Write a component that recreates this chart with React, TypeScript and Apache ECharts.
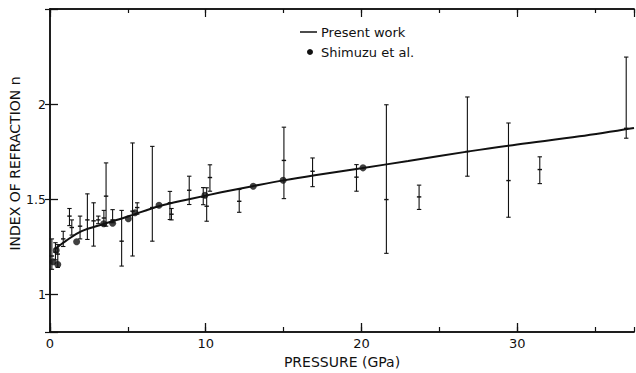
import React, { useEffect, useRef } from "react";
import * as echarts from "echarts";

// Smooth fit curve ("Present work"), [pressure GPa, n]
const curvePressure = [0.3, 1, 2, 3.5, 5, 7, 9, 11, 13, 15, 17, 20, 23, 27, 30, 34, 37.5];
const curveN = [1.235, 1.278, 1.33, 1.37, 1.408, 1.462, 1.5, 1.535, 1.567, 1.598, 1.625, 1.662, 1.7, 1.752, 1.787, 1.83, 1.874];

// Measured points with error bars: pressure, centre, low, high
const errPressure = [0.12, 0.35, 0.5, 0.85, 1.25, 1.4, 1.93, 2.4, 2.8, 3.1, 3.46, 3.6, 4.02, 4.6, 5.3, 5.6, 6.57, 7.7, 7.8, 8.94, 9.84, 10.06, 10.27, 12.15, 15.02, 16.86, 19.68, 21.6, 23.7, 26.8, 29.44, 31.45, 37.0];
const errCenter = [1.2, 1.22, 1.21, 1.29, 1.41, 1.35, 1.357, 1.39, 1.385, 1.39, 1.4, 1.515, 1.39, 1.278, 1.436, 1.455, 1.455, 1.48, 1.42, 1.546, 1.51, 1.462, 1.613, 1.488, 1.703, 1.646, 1.615, 1.497, 1.511, 1.75, 1.597, 1.655, 1.872];
const errLow = [1.13, 1.18, 1.14, 1.25, 1.36, 1.31, 1.29, 1.287, 1.252, 1.37, 1.36, 1.357, 1.375, 1.147, 1.2, 1.42, 1.278, 1.392, 1.39, 1.471, 1.47, 1.383, 1.541, 1.43, 1.502, 1.565, 1.541, 1.214, 1.445, 1.62, 1.404, 1.581, 1.82];
const errHigh = [1.29, 1.27, 1.26, 1.33, 1.45, 1.39, 1.41, 1.527, 1.48, 1.41, 1.44, 1.69, 1.444, 1.44, 1.795, 1.48, 1.777, 1.54, 1.45, 1.62, 1.56, 1.559, 1.68, 1.55, 1.878, 1.716, 1.681, 1.996, 1.573, 2.037, 1.9, 1.722, 2.247];

// Shimuzu et al. points
const shimPressure = [0.2, 0.4, 0.5, 1.71, 3.45, 4.02, 5.03, 5.46, 7.0, 9.95, 13.05, 14.97, 20.1];
const shimN = [1.17, 1.23, 1.155, 1.275, 1.37, 1.372, 1.396, 1.428, 1.467, 1.52, 1.567, 1.599, 1.664];

const xTickLabels = ["0", "10", "20", "30"];
const yTickLabels = ["1", "1.5", "2"];

const FONT = "DejaVu Sans";
const INK = "#111";

export default function App() {
  const ref = useRef<HTMLDivElement>(null);

  useEffect(() => {
    if (!ref.current) return;
    const chart = echarts.init(ref.current, undefined, { renderer: "svg" });

    const curve = curvePressure.map((p, i) => [p, curveN[i]]);
    const errData = errPressure.map((p, i) => [p, errCenter[i], errLow[i], errHigh[i]]);
    const shim = shimPressure.map((p, i) => [p, shimN[i]]);

    const X_MIN = 0;
    const X_MAX = 37.5;
    const Y_MIN = 0.8;
    const Y_MAX = 2.5;

    const baseX = {
      type: "value" as const,
      min: X_MIN,
      max: X_MAX,
      splitLine: { show: false },
      axisLine: { show: true, lineStyle: { color: INK, width: 1.5 } },
      axisLabel: { show: false },
    };
    const baseY = {
      type: "value" as const,
      min: Y_MIN,
      max: Y_MAX,
      splitNumber: 3,
      splitLine: { show: false },
      axisLine: { show: true, lineStyle: { color: INK, width: 1.5 } },
      axisLabel: { show: false },
    };

    const option: any = {
      animation: false,
      backgroundColor: "#fff",
      grid: { left: 50, right: 2, top: 9, bottom: 41, containLabel: false, outerBoundsMode: "none" },
      xAxis: [
        {
          ...baseX,
          position: "bottom",
          interval: 10,
          axisTick: { show: true, inside: true, length: 9, lineStyle: { color: INK, width: 1.3 } },
          axisLabel: {
            show: true,
            color: INK,
            fontFamily: FONT,
            fontSize: 13,
            margin: 5,
            showMaxLabel: false,
            formatter: (v: number) => {
              const s = String(Math.round(v));
              return xTickLabels.includes(s) && Math.abs(v - Math.round(v)) < 1e-6 ? s : "";
            },
          },
          name: "PRESSURE (GPa)",
          nameLocation: "middle",
          nameGap: 23,
          nameMoveOverlap: false,
          nameTextStyle: { color: INK, fontFamily: FONT, fontSize: 14 },
        },
        {
          ...baseX,
          position: "bottom",
          interval: 5,
          axisTick: { show: true, inside: true, length: 5, lineStyle: { color: INK, width: 1.2 } },
        },
        {
          ...baseX,
          position: "top",
          interval: 10,
          axisTick: { show: true, inside: true, length: 8, lineStyle: { color: INK, width: 1.2 } },
        },
        {
          ...baseX,
          position: "top",
          interval: 5,
          axisTick: { show: true, inside: true, length: 4, lineStyle: { color: INK, width: 1.2 } },
        },
      ],
      yAxis: [
        {
          ...baseY,
          position: "left",
          axisTick: { show: true, inside: true, length: 8, lineStyle: { color: INK, width: 1.3 } },
          axisLabel: {
            show: true,
            color: INK,
            fontFamily: FONT,
            fontSize: 12.5,
            margin: 4,
            formatter: (v: number) => {
              const s = String(Math.round(v * 10) / 10);
              return yTickLabels.includes(s) ? s : "";
            },
          },
          name: "INDEX OF REFRACTION n",
          nameLocation: "middle",
          nameGap: 28,
          nameMoveOverlap: false,
          nameTextStyle: { color: INK, fontFamily: FONT, fontSize: 14, padding: [0, 0, 0, 14] },
        },
        {
          ...baseY,
          position: "right",
          axisTick: { show: true, inside: true, length: 5, lineStyle: { color: INK, width: 1.2 } },
        },
      ],
      series: [
        {
          name: "Present work",
          type: "line",
          xAxisIndex: 0,
          yAxisIndex: 0,
          data: curve,
          smooth: 0.35,
          showSymbol: false,
          symbol: "none",
          lineStyle: { color: INK, width: 2 },
          silent: true,
          z: 3,
        },
        {
          name: "errors",
          type: "custom",
          xAxisIndex: 0,
          yAxisIndex: 0,
          data: errData,
          encode: { x: 0, y: [1, 2, 3] },
          silent: true,
          z: 4,
          renderItem: (_params: any, api: any) => {
            const x = api.value(0);
            const c = api.coord([x, api.value(1)]);
            const lo = api.coord([x, api.value(2)]);
            const hi = api.coord([x, api.value(3)]);
            const cap = 2.2;
            const style = { stroke: INK, lineWidth: 1.1 };
            return {
              type: "group",
              children: [
                { type: "line", shape: { x1: lo[0], y1: lo[1], x2: hi[0], y2: hi[1] }, style },
                { type: "line", shape: { x1: hi[0] - cap, y1: hi[1], x2: hi[0] + cap, y2: hi[1] }, style },
                { type: "line", shape: { x1: lo[0] - cap, y1: lo[1], x2: lo[0] + cap, y2: lo[1] }, style },
                { type: "line", shape: { x1: c[0] - cap, y1: c[1], x2: c[0] + cap, y2: c[1] }, style: { stroke: INK, lineWidth: 1.4 } },
              ],
            };
          },
        },
        {
          name: "Shimuzu et al.",
          type: "scatter",
          xAxisIndex: 0,
          yAxisIndex: 0,
          data: shim,
          symbol: "circle",
          symbolSize: 7,
          itemStyle: { color: INK },
          silent: true,
          z: 5,
        },
      ],
      graphic: [
        {
          type: "line",
          shape: { x1: 300, y1: 32, x2: 317, y2: 32 },
          style: { stroke: INK, lineWidth: 1.5 },
        },
        {
          type: "text",
          x: 321,
          y: 32,
          style: { text: "Present work", fill: INK, font: `13px "${FONT}"`, verticalAlign: "middle", align: "left" },
        },
        {
          type: "circle",
          shape: { cx: 310, cy: 52, r: 3 },
          style: { fill: INK },
        },
        {
          type: "text",
          x: 321,
          y: 52,
          style: { text: "Shimuzu et al.", fill: INK, font: `13px "${FONT}"`, verticalAlign: "middle", align: "left" },
        },
      ],
    };

    chart.setOption(option);
    return () => chart.dispose();
  }, []);

  return <div ref={ref} style={{ width: 636, height: 373, position: "absolute", left: 0, top: 0 }} />;
}
